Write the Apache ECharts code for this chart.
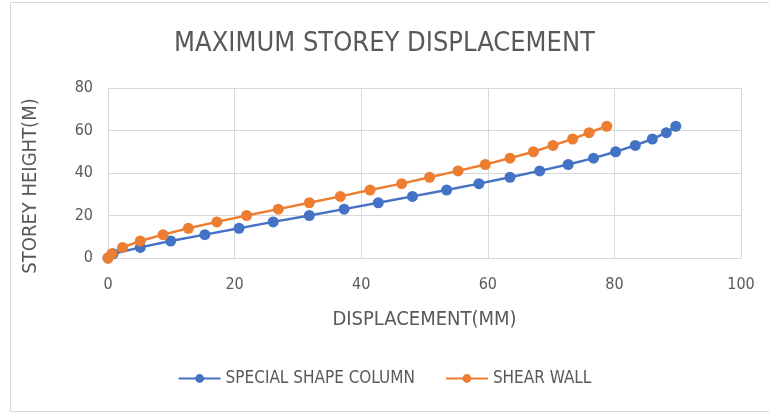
<!DOCTYPE html>
<html>
<head>
<meta charset="utf-8">
<script src="https://cdn.jsdelivr.net/npm/echarts@6/dist/echarts.min.js"></script>
<style>
  html, body { margin: 0; padding: 0; background: #fff; }
  #frame { position: absolute; left: 10px; top: 2px; width: 800px; height: 408px; border: 1px solid #d9d9d9; }
  #main { position: absolute; left: 0; top: 0; width: 769px; height: 413px; }
</style>
</head>
<body>
<div id="frame"></div>
<div id="main"></div>
<script>
// storey heights (m)
var heights = [0, 2, 5, 8, 11, 14, 17, 20, 23, 26, 29, 32, 35, 38, 41, 44, 47, 50, 53, 56, 59, 62];
// displacement (mm)
var specialShapeColumn = [0, 0.8, 5.1, 9.9, 15.3, 20.7, 26.1, 31.8, 37.3, 42.7, 48.1, 53.5, 58.6, 63.5, 68.2, 72.7, 76.7, 80.2, 83.3, 86.0, 88.2, 89.7];
var shearWall = [0, 0.6, 2.3, 5.1, 8.7, 12.7, 17.2, 21.9, 26.9, 31.8, 36.7, 41.4, 46.4, 50.8, 55.3, 59.6, 63.5, 67.2, 70.3, 73.4, 76.0, 78.8];
var seriesNames = ['SPECIAL SHAPE COLUMN', 'SHEAR WALL'];

var font = '"Liberation Sans Narrow", "DejaVu Sans Condensed", sans-serif';

function pairs(xs) {
  return xs.map(function (x, i) { return [x, heights[i]]; });
}

var chart = echarts.init(document.getElementById('main'));
chart.setOption({
  animation: false,
  textStyle: { fontFamily: font },
  title: {
    text: 'MAXIMUM STOREY DISPLACEMENT',
    left: 'center',
    top: 25,
    textStyle: { fontFamily: font, fontSize: 27, fontWeight: 'normal', color: '#595959' }
  },
  legend: {
    bottom: 21,
    left: 'center',
    itemWidth: 42,
    itemHeight: 11,
    itemGap: 30,
    textStyle: { fontFamily: font, fontSize: 17, color: '#595959' },
    data: seriesNames
  },
  grid: { left: 108, right: 28, top: 88, bottom: 155, containLabel: false },
  xAxis: {
    type: 'value',
    min: 0, max: 100, interval: 20,
    name: 'DISPLACEMENT(MM)',
    nameLocation: 'middle',
    nameGap: 52,
    nameTextStyle: { fontFamily: font, fontSize: 20, color: '#595959' },
    axisLine: { show: true, lineStyle: { color: '#d9d9d9' } },
    axisTick: { show: false },
    axisLabel: { fontFamily: font, fontSize: 16, color: '#595959', margin: 19 },
    splitLine: { lineStyle: { color: '#d9d9d9', width: 1 } }
  },
  yAxis: {
    type: 'value',
    min: 0, max: 80, interval: 20,
    name: 'STOREY HEIGHT(M)',
    nameLocation: 'middle',
    nameGap: 67,
    nameTextStyle: { fontFamily: font, fontSize: 20, color: '#595959', padding: [0, 26, 0, 0] },
    axisLine: { show: false },
    axisTick: { show: false },
    axisLabel: { fontFamily: font, fontSize: 16, color: '#595959', margin: 15 },
    splitLine: { lineStyle: { color: '#d9d9d9', width: 1 } }
  },
  series: [
    {
      name: seriesNames[0],
      type: 'line',
      data: pairs(specialShapeColumn),
      symbol: 'circle',
      symbolSize: 11,
      itemStyle: { color: '#4472C4' },
      lineStyle: { color: '#4472C4', width: 2.5 }
    },
    {
      name: seriesNames[1],
      type: 'line',
      data: pairs(shearWall),
      symbol: 'circle',
      symbolSize: 11,
      itemStyle: { color: '#ED7D31' },
      lineStyle: { color: '#ED7D31', width: 2.5 }
    }
  ]
});
</script>
</body>
</html>
